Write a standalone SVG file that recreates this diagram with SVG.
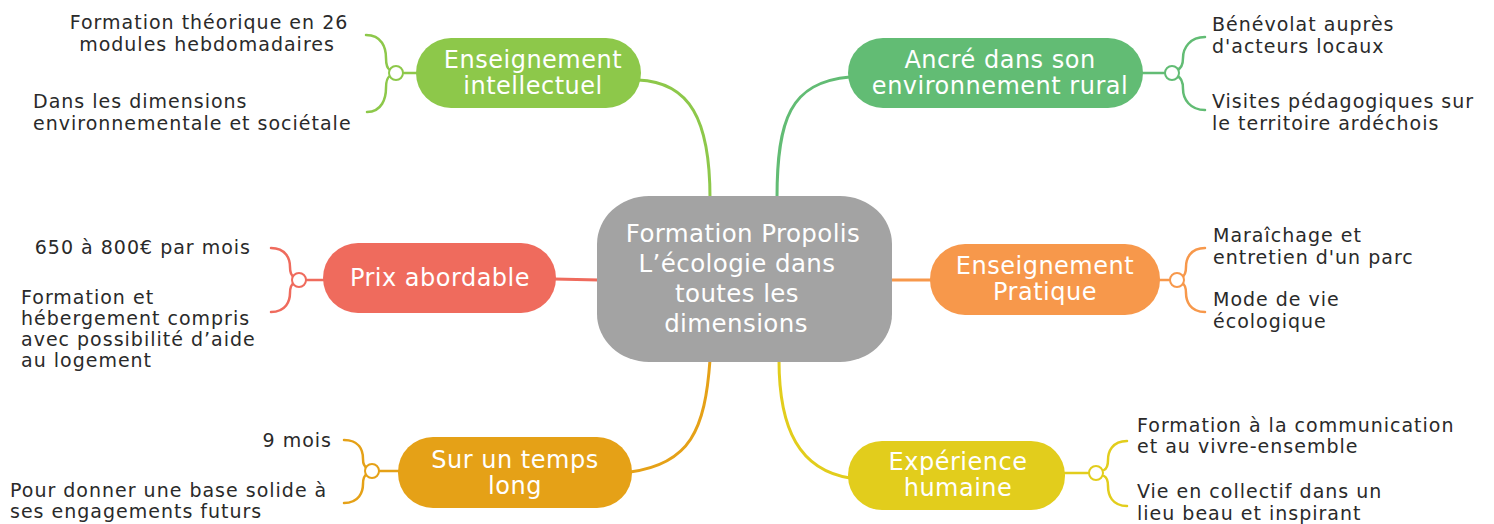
<svg xmlns="http://www.w3.org/2000/svg" width="1494" height="524" viewBox="0 0 1494 524">
<style>
.lbl{font-family:"DejaVu Sans","Noto Sans",sans-serif;font-size:19px;letter-spacing:1px;fill:#2a2a2a}
.nt{font-family:"DejaVu Sans","Noto Sans",sans-serif;font-size:24px;letter-spacing:0.5px;fill:#ffffff;text-anchor:middle}
.ct{font-family:"DejaVu Sans","Noto Sans",sans-serif;font-size:24.5px;letter-spacing:0.4px;fill:#ffffff;text-anchor:middle}
.c{fill:none;stroke-width:3;stroke-linecap:round}
.b{fill:none;stroke-width:2.5;stroke-linecap:round}
.k{fill:#ffffff;stroke-width:2}
.g1{stroke:#8DC84A}.g2{stroke:#62BC74}.r{stroke:#EF6B5D}.o{stroke:#F7984B}.a{stroke:#E5A117}.y{stroke:#E2CD1C}
</style>
<rect width="1494" height="524" fill="#ffffff"/>
<g id="connectors">
  <path class="c g1" d="M638,80 C690,82 710,120 710,198"/>
  <path class="c g2" d="M777,198 C777,120 790,82 850,77"/>
  <path class="c r" d="M554,279 L599,280"/>
  <path class="c o" d="M890,280 L932,280"/>
  <path class="c a" d="M710,360 C705,430 690,464 630,472"/>
  <path class="c y" d="M779,360 C779,430 800,470 850,478"/>
  <path class="b g1" d="M404,73 L418,73"/>
  <path class="b g1" d="M366,35 C382,35 386,48 386,58 C386,66 388,69 390,70"/>
  <path class="b g1" d="M367,112 C382,112 386,98 386,88 C386,80 388,77 390,76"/>
  <circle class="k g1" cx="396" cy="73" r="7"/>
  <path class="b g2" d="M1141,73 L1165,73"/>
  <path class="b g2" d="M1205,37 C1190,37 1183,48 1183,58 C1183,66 1180,69 1177,70"/>
  <path class="b g2" d="M1205,110 C1190,110 1183,99 1183,89 C1183,81 1180,77 1177,76"/>
  <circle class="k g2" cx="1172" cy="73" r="7"/>
  <path class="b r" d="M306,280 L325,280"/>
  <path class="b r" d="M271,248 C286,248 290,259 290,267 C290,273 292,276 294,277"/>
  <path class="b r" d="M271,312 C286,312 290,301 290,293 C290,287 292,284 294,283"/>
  <circle class="k r" cx="299" cy="280" r="7"/>
  <path class="b o" d="M1158,280 L1171,280"/>
  <path class="b o" d="M1205,248 C1190,248 1186,259 1186,267 C1186,273 1184,276 1182,277"/>
  <path class="b o" d="M1205,312 C1190,312 1186,301 1186,293 C1186,287 1184,284 1182,283"/>
  <circle class="k o" cx="1177" cy="280" r="7"/>
  <path class="b a" d="M379,471 L400,471"/>
  <path class="b a" d="M344,440 C359,440 363,450 363,459 C363,465 365,467 367,468"/>
  <path class="b a" d="M344,503 C359,503 363,492 363,484 C363,478 365,475 367,474"/>
  <circle class="k a" cx="372" cy="471" r="7"/>
  <path class="b y" d="M1063,473 L1088,473"/>
  <path class="b y" d="M1127,441 C1112,441 1108,452 1108,460 C1108,466 1106,469 1104,470"/>
  <path class="b y" d="M1127,506 C1112,506 1108,495 1108,486 C1108,480 1106,477 1104,476"/>
  <circle class="k y" cx="1096" cy="473" r="7"/>
</g>
<g id="central">
  <rect x="597" y="196" width="295" height="166" rx="52" ry="48" fill="#A3A3A3"/>
  <text class="ct" x="743" y="242">Formation Propolis</text>
  <text class="ct" x="737" y="272">L’écologie dans</text>
  <text class="ct" x="737" y="302">toutes les</text>
  <text class="ct" x="736" y="332">dimensions</text>
</g>
<g id="intellectuel">
  <rect x="416" y="38" width="225" height="70" rx="35" fill="#8DC84A"/>
  <text class="nt" x="533" y="68">Enseignement</text>
  <text class="nt" x="533" y="94">intellectuel</text>
</g>
<g id="rural">
  <rect x="848" y="38" width="295" height="70" rx="35" fill="#62BC74"/>
  <text class="nt" x="1000" y="68">Ancré dans son</text>
  <text class="nt" x="1000" y="94">environnement rural</text>
</g>
<g id="prix">
  <rect x="323" y="243" width="233" height="70" rx="35" fill="#EF6B5D"/>
  <text class="nt" x="440" y="286">Prix abordable</text>
</g>
<g id="pratique">
  <rect x="930" y="244" width="230" height="71" rx="35" fill="#F7984B"/>
  <text class="nt" x="1045" y="274">Enseignement</text>
  <text class="nt" x="1045" y="300">Pratique</text>
</g>
<g id="temps">
  <rect x="398" y="437" width="234" height="71" rx="35" fill="#E5A117"/>
  <text class="nt" x="515" y="468">Sur un temps</text>
  <text class="nt" x="515" y="494">long</text>
</g>
<g id="experience">
  <rect x="848" y="441" width="217" height="69" rx="34" fill="#E2CD1C"/>
  <text class="nt" x="958" y="470">Expérience</text>
  <text class="nt" x="958" y="496">humaine</text>
</g>
<g id="c-intellectuel-1"><text class="lbl" x="209" y="29" text-anchor="middle">Formation théorique en 26</text><text class="lbl" x="207" y="51" text-anchor="middle">modules hebdomadaires</text></g>
<g id="c-intellectuel-2"><text class="lbl" x="33" y="108">Dans les dimensions</text><text class="lbl" x="33" y="130">environnementale et sociétale</text></g>
<g id="c-rural-1"><text class="lbl" x="1212" y="31">Bénévolat auprès</text><text class="lbl" x="1212" y="53">d'acteurs locaux</text></g>
<g id="c-rural-2"><text class="lbl" x="1212" y="108">Visites pédagogiques sur</text><text class="lbl" x="1212" y="130">le territoire ardéchois</text></g>
<g id="c-pratique-1"><text class="lbl" x="1213" y="242">Maraîchage et</text><text class="lbl" x="1213" y="264">entretien d'un parc</text></g>
<g id="c-pratique-2"><text class="lbl" x="1213" y="306">Mode de vie</text><text class="lbl" x="1213" y="328">écologique</text></g>
<g id="c-prix-1"><text class="lbl" x="251" y="254" text-anchor="end">650 à 800€ par mois</text></g>
<g id="c-prix-2"><text class="lbl" x="21" y="304">Formation et</text><text class="lbl" x="21" y="325">hébergement compris</text><text class="lbl" x="21" y="346">avec possibilité d’aide</text><text class="lbl" x="21" y="367">au logement</text></g>
<g id="c-temps-1"><text class="lbl" x="332" y="447" text-anchor="end">9 mois</text></g>
<g id="c-temps-2"><text class="lbl" x="10" y="497">Pour donner une base solide à</text><text class="lbl" x="10" y="518">ses engagements futurs</text></g>
<g id="c-experience-1"><text class="lbl" x="1137" y="432">Formation à la communication</text><text class="lbl" x="1137" y="453">et au vivre-ensemble</text></g>
<g id="c-experience-2"><text class="lbl" x="1137" y="498">Vie en collectif dans un</text><text class="lbl" x="1137" y="520">lieu beau et inspirant</text></g>
</svg>
